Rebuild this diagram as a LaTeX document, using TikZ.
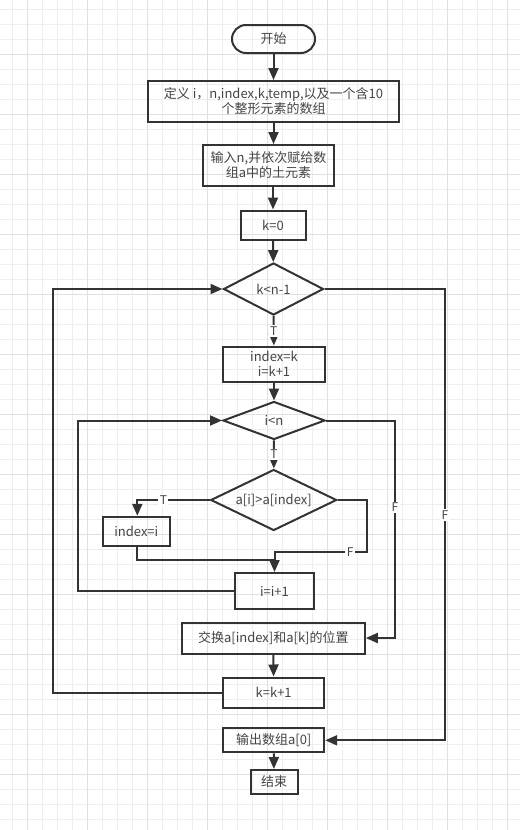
\documentclass[tikz,border=0pt]{standalone}
\usepackage{fontspec}
\setmainfont{Noto Sans CJK SC}
\usetikzlibrary{arrows.meta, shapes.geometric}

\definecolor{linegray}{HTML}{333333}
\definecolor{textgray}{HTML}{444444}
\definecolor{gridminor}{HTML}{EEEEEE}
\definecolor{gridmajor}{HTML}{E0E0E0}

\tikzset{
	box/.style = {draw=linegray, line width=2pt, inner sep=0pt, align=center, text=textgray},
	decide/.style = {box, diamond, aspect=2},
	flow/.style = {draw=linegray, line width=2pt, -{Triangle[length=12pt, width=10pt]}},
	link/.style = {draw=linegray, line width=2pt},
	tf/.style = {fill=white, inner sep=1.5pt, text=textgray, font=\fontsize{12}{12}\selectfont},
}

\begin{document}
\begin{tikzpicture}[x=1pt, y=-1pt, font=\fontsize{13}{15}\selectfont]
	\useasboundingbox (0,0) rectangle (520,830);
	\clip (0,0) rectangle (520,830);

	\foreach \i in {0,...,33} \draw [gridminor, line width=1pt] (12.3+15*\i,0) -- (12.3+15*\i,830);
	\foreach \i in {0,...,54} \draw [gridminor, line width=1pt] (0,9.3+15*\i) -- (520,9.3+15*\i);
	\foreach \i in {0,...,8} \draw [gridmajor, line width=1pt] (27.3+60*\i,0) -- (27.3+60*\i,830);
	\foreach \i in {0,...,12} \draw [gridmajor, line width=1pt] (0,54.3+60*\i) -- (520,54.3+60*\i);

	\node [box, rounded corners=14pt, minimum width=83pt, minimum height=28pt] (start) at (273.5,39) {开始};
	\node [box, minimum width=251pt, minimum height=41pt] (def) at (273.5,101.5) {定义 i，n,index,k,temp,以及一个含10\\个整形元素的数组};
	\node [box, minimum width=131pt, minimum height=41pt] (in) at (268.5,165.5) {输入n,并依次赋给数\\组a中的土元素};
	\node [box, minimum width=65pt, minimum height=29pt] (k0) at (273,225) {k=0};
	\node [decide, minimum width=100pt, minimum height=52pt] (kd) at (273.5,289) {k<n-1};
	\node [box, minimum width=102pt, minimum height=35pt] (idx) at (274,364) {index=k\\i=k+1};
	\node [decide, minimum width=102pt, minimum height=38pt] (id) at (274,420.5) {i<n};
	\node [decide, minimum width=126pt, minimum height=61pt] (cmp) at (273.7,500) {a[i]>a[index]};
	\node [box, minimum width=67pt, minimum height=29pt] (idxi) at (136.3,531.3) {index=i};
	\node [box, minimum width=79pt, minimum height=36pt] (inc) at (274.5,591) {i=i+1};
	\node [box, minimum width=183pt, minimum height=31pt] (sw) at (273.3,638) {交换a[index]和a[k]的位置};
	\node [box, minimum width=101pt, minimum height=30pt] (kk) at (273.7,692.5) {k=k+1};
	\node [box, minimum width=101pt, minimum height=24pt] (out) at (273.7,740.3) {输出数组a[0]};
	\node [box, minimum width=47pt, minimum height=24pt] (stop) at (274,782) {结束};

	\coordinate (kdL) at (53,289);
	\coordinate (kdR) at (445,289);
	\coordinate (idL) at (78.3,420.5);
	\coordinate (idR) at (395,420.5);
	\coordinate (cmpT) at (137.3,500);
	\coordinate (cmpF) at (366.7,552);
	\coordinate (join) at (274.5,560);

	\draw [flow] (start) -- (def);
	\draw [flow] (def.south) -- (def.south |- in.north);
	\draw [flow] (in.south -| k0) -- (k0);
	\draw [flow] (k0) -- (kd);
	\draw [flow] (kd) -- node [tf] {T} (idx);
	\draw [flow] (idx) -- (id);
	\draw [flow] (id) -- node [tf] {T} (cmp);
	\draw [flow] (cmp.west) -- node [tf, pos=0.64] {T} (cmpT) -- (idxi.north -| cmpT);
	\draw [link] (idxi.south -| cmpT) -- (cmpT |- join) -- (join);
	\draw [flow] (cmp.east) -| (cmpF) -- node [tf, pos=0.18] {F} (cmpF -| inc.north) -- (inc.north);
	\draw [flow] (inc.west) -- (idL |- inc.west) -- (idL) -- (id.west);
	\draw [flow] (id.east) -- (idR) -- node [tf, pos=0.4] {F} (idR |- sw.east) -- (sw.east);
	\draw [flow] (sw) -- (kk);
	\draw [flow] (kk.west) -- (kdL |- kk.west) -- (kdL) -- (kd.west);
	\draw [flow] (kd.east) -- (kdR) -- node [tf] {F} (kdR |- out.east) -- (out.east);
	\draw [flow] (out) -- (stop);
\end{tikzpicture}
\end{document}
